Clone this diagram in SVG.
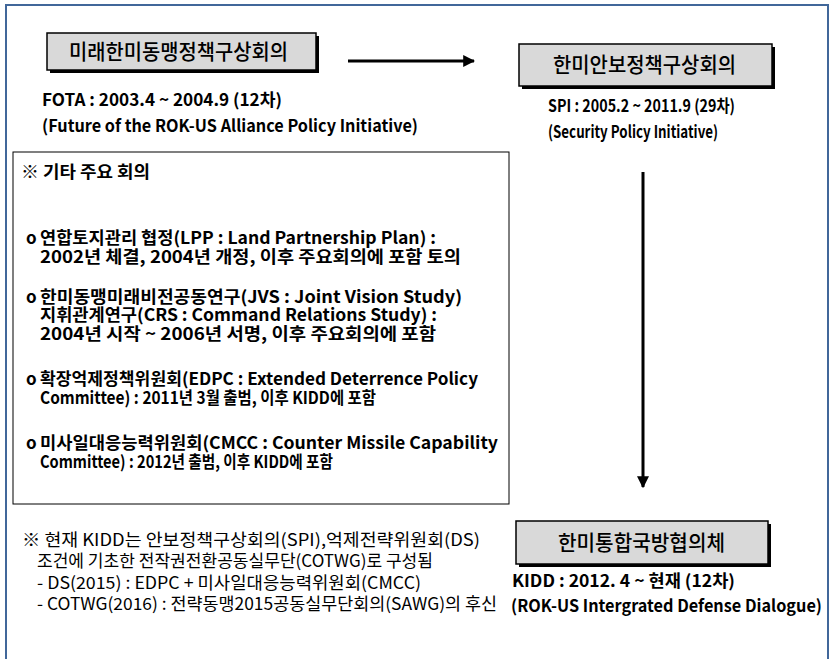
<svg xmlns="http://www.w3.org/2000/svg" width="831" height="659" viewBox="0 0 831 659">
<style>
text{font-family:"Noto Sans CJK KR","Noto Sans",sans-serif;fill:#000}
.b{font-weight:bold;font-size:17px}
.r{font-weight:normal;font-size:17px}
.t{font-weight:500;font-size:21px}
.box{fill:#D9D9D9;stroke:#000;stroke-width:1.5}
.sh{fill:#000}
.conn{stroke:#000;stroke-width:3;fill:none}
</style>
<defs>
<marker id="ah" viewBox="0 0 10 10" refX="9" refY="5" markerWidth="4" markerHeight="4" orient="auto" markerUnits="strokeWidth">
<path d="M0,0 L10,5 L0,10 z" fill="#000"/>
</marker>
</defs>
<rect x="0" y="0" width="831" height="659" fill="#fff"/>
<path d="M6,665 V5 H828 V665" fill="none" stroke="#41679A" stroke-width="2"/>

<g id="connectors">
<line class="conn" x1="348" y1="61" x2="474" y2="61" marker-end="url(#ah)"/>
<line class="conn" x1="643" y1="172" x2="643" y2="487" marker-end="url(#ah)"/>
</g>

<g id="fota">
<rect class="sh" x="50" y="36" width="269" height="37"/>
<rect class="box" x="47" y="33" width="269" height="37"/>
<text class="t" x="69" y="59" textLength="219" lengthAdjust="spacingAndGlyphs">미래한미동맹정책구상회의</text>
<text class="b" x="42" y="106" textLength="240" lengthAdjust="spacingAndGlyphs">FOTA : 2003.4 ~ 2004.9 (12차)</text>
<text class="b" x="42" y="132" textLength="376" lengthAdjust="spacingAndGlyphs">(Future of the ROK-US Alliance Policy Initiative)</text>
</g>

<g id="spi">
<rect class="sh" x="522" y="47" width="253" height="42"/>
<rect class="box" x="519" y="44" width="253" height="42"/>
<text class="t" x="553" y="72" textLength="183" lengthAdjust="spacingAndGlyphs">한미안보정책구상회의</text>
<text class="b" x="548" y="112" textLength="187" lengthAdjust="spacingAndGlyphs">SPI : 2005.2 ~ 2011.9 (29차)</text>
<text class="b" x="548" y="138" textLength="170" lengthAdjust="spacingAndGlyphs">(Security Policy Initiative)</text>
</g>

<g id="kidd">
<rect class="sh" x="519" y="524" width="252" height="43"/>
<rect class="box" x="516" y="521" width="252" height="43"/>
<text class="t" x="558" y="550" textLength="167" lengthAdjust="spacingAndGlyphs">한미통합국방협의체</text>
<text class="b" x="512" y="587" textLength="223" lengthAdjust="spacingAndGlyphs">KIDD : 2012. 4 ~ 현재 (12차)</text>
<text class="b" x="511" y="612" textLength="311" lengthAdjust="spacingAndGlyphs">(ROK-US Intergrated Defense Dialogue)</text>
</g>

<g id="other-meetings">
<rect x="13" y="152" width="496" height="352" fill="#fff" stroke="#000" stroke-width="1"/>
<text class="b" x="21" y="178" textLength="129" lengthAdjust="spacingAndGlyphs">※ 기타 주요 회의</text>
<text class="b" x="26" y="244">o</text>
<text class="b" x="40" y="244" textLength="396" lengthAdjust="spacingAndGlyphs">연합토지관리 협정(LPP : Land Partnership Plan) :</text>
<text class="b" x="40" y="263" textLength="421" lengthAdjust="spacingAndGlyphs">2002년 체결, 2004년 개정, 이후 주요회의에 포함 토의</text>
<text class="b" x="26" y="303">o</text>
<text class="b" x="40" y="303" textLength="422" lengthAdjust="spacingAndGlyphs">한미동맹미래비전공동연구(JVS : Joint Vision Study)</text>
<text class="b" x="40" y="321" textLength="397" lengthAdjust="spacingAndGlyphs">지휘관계연구(CRS : Command Relations Study) :</text>
<text class="b" x="40" y="340" textLength="396" lengthAdjust="spacingAndGlyphs">2004년 시작 ~ 2006년 서명, 이후 주요회의에 포함</text>
<text class="b" x="26" y="385">o</text>
<text class="b" x="40" y="385" textLength="438" lengthAdjust="spacingAndGlyphs">확장억제정책위원회(EDPC : Extended Deterrence Policy</text>
<text class="b" x="40" y="404" textLength="336" lengthAdjust="spacingAndGlyphs">Committee) : 2011년 3월 출범, 이후 KIDD에 포함</text>
<text class="b" x="26" y="449">o</text>
<text class="b" x="40" y="449" textLength="458" lengthAdjust="spacingAndGlyphs">미사일대응능력위원회(CMCC : Counter Missile Capability</text>
<text class="b" x="40" y="468" textLength="293" lengthAdjust="spacingAndGlyphs">Committee) : 2012년 출범, 이후 KIDD에 포함</text>
</g>

<g id="note">
<text class="r" x="22" y="546" textLength="458" lengthAdjust="spacingAndGlyphs">※ 현재 KIDD는 안보정책구상회의(SPI),억제전략위원회(DS)</text>
<text class="r" x="37" y="567" textLength="396" lengthAdjust="spacingAndGlyphs">조건에 기초한 전작권전환공동실무단(COTWG)로 구성됨</text>
<text class="r" x="37" y="589" textLength="384" lengthAdjust="spacingAndGlyphs">- DS(2015) : EDPC + 미사일대응능력위원회(CMCC)</text>
<text class="r" x="37" y="610" textLength="460" lengthAdjust="spacingAndGlyphs">- COTWG(2016) : 전략동맹2015공동실무단회의(SAWG)의 후신</text>
</g>
</svg>
